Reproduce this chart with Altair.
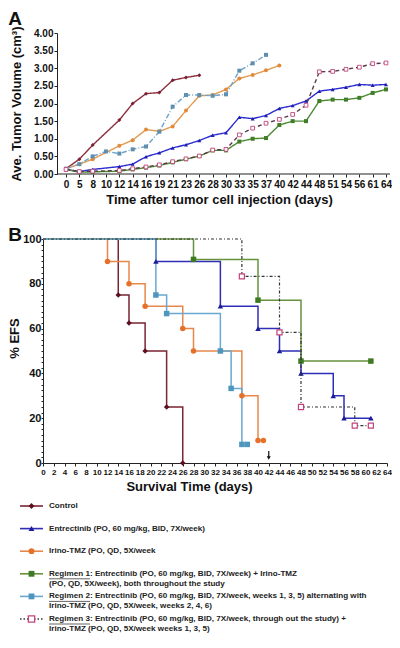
import altair as alt
import pandas as pd

# ---------------- data ----------------
names = ["Control", "Entrectinib", "Irino-TMZ", "Regimen 1", "Regimen 2", "Regimen 3"]

# Panel A: x axis labels (days) and points placed on that measurement axis (index of label)
day_labels = [0, 5, 8, 10, 12, 14, 16, 19, 21, 23, 26, 28, 30, 33, 35, 37, 40, 42, 44, 48, 51, 54, 56, 61, 64]

ctrl_pos = [0, 1, 2, 4, 5, 6, 7, 8, 9, 10]
ctrl_vol = [0.15, 0.42, 0.82, 1.53, 2.00, 2.28, 2.31, 2.66, 2.74, 2.80]

entr_pos = [0, 1, 2, 4, 5, 6, 7, 8, 9, 10, 11, 12, 13, 14, 15, 16, 17, 18, 19, 20, 21, 22, 23, 24]
entr_vol = [0.13, 0.07, 0.13, 0.21, 0.28, 0.49, 0.60, 0.74, 0.83, 0.95, 1.10, 1.17,
            1.61, 1.57, 1.66, 1.86, 1.94, 2.07, 2.35, 2.40, 2.46, 2.54, 2.52, 2.54]

irino_pos = [0, 1, 2, 4, 5, 6, 7, 8, 9, 10, 11, 12, 13, 14, 15, 16]
irino_vol = [0.15, 0.28, 0.42, 0.80, 0.96, 1.26, 1.21, 1.35, 1.80, 2.22, 2.24, 2.40, 2.71, 2.81, 2.94, 3.08]

reg1_pos = [0, 1, 2, 4, 5, 6, 7, 8, 9, 10, 11, 12, 13, 14, 15, 16, 17, 18, 19, 20, 21, 22, 23, 24]
reg1_vol = [0.13, 0.05, 0.06, 0.08, 0.13, 0.18, 0.24, 0.33, 0.42, 0.51, 0.67, 0.67,
            0.92, 1.00, 1.02, 1.39, 1.50, 1.50, 2.07, 2.11, 2.11, 2.16, 2.30, 2.40]

reg2_pos = [0, 1, 2, 3, 4, 5, 6, 7, 8, 9, 10, 11, 12, 13, 14, 15]
reg2_vol = [0.15, 0.28, 0.50, 0.64, 0.58, 0.70, 0.78, 1.20, 1.91, 2.24, 2.24, 2.22, 2.26, 2.93, 3.14, 3.38]

reg3_pos = [0, 1, 2, 4, 5, 6, 7, 8, 9, 10, 11, 12, 13, 14, 15, 16, 17, 18, 19, 20, 21, 22, 23, 24]
reg3_vol = [0.13, 0.07, 0.08, 0.10, 0.15, 0.20, 0.26, 0.35, 0.43, 0.51, 0.68, 0.70,
            1.11, 1.30, 1.44, 1.55, 1.69, 1.95, 2.90, 2.91, 2.97, 3.03, 3.13, 3.15]

# Panel B: Kaplan-Meier event-free survival (day, % EFS)
ctrl_days = [0, 14, 16, 19, 23, 26]
ctrl_efs = [100, 75, 62.5, 50, 25, 0]
entr_days = [0, 21, 33, 40, 44, 48, 54, 56, 61]
entr_efs = [100, 90, 70, 60, 50, 40, 30, 20, 20]
irino_days = [0, 12, 16, 19, 26, 28, 37, 40, 41]
irino_efs = [100, 90, 80, 70, 60, 50, 30, 10, 10]
reg1_days = [0, 28, 40, 48, 61]
reg1_efs = [100, 90.9, 72.7, 45.5, 45.5]
reg2_days = [0, 21, 23, 33, 35, 37, 38]
reg2_efs = [100, 75, 66.7, 50, 33.3, 8.3, 8.3]
reg3_days = [0, 37, 44, 48, 58, 61]
reg3_efs = [100, 83.3, 58.3, 25, 16.7, 16.7]
arrow_day = [42]

# Legend text
legend_line1 = [
    "Control",
    "Entrectinib (PO, 60 mg/kg, BID, 7X/week)",
    "Irino-TMZ (PO, QD, 5X/week",
    "Regimen 1: Entrectinib (PO, 60 mg/kg, BID, 7X/week) + Irino-TMZ",
    "Regimen 2: Entrectinib (PO, 60 mg/kg, BID, 7X/week, weeks 1, 3, 5) alternating with",
    "Regimen 3: Entrectinib (PO, 60 mg/kg, BID, 7X/week, through out the study)  +",
]
legend_line2 = [
    "",
    "",
    "",
    "(PO, QD, 5X/week), both throughout the study",
    "Irino-TMZ (PO, QD, 5X/week, weeks 2, 4, 6)",
    "Irino-TMZ (PO, QD, 5X/week weeks 1, 3, 5)",
]
legend_row = [0, 1, 2, 3, 4, 5]

# ---------------- styles ----------------
colA = ["#8B2F3F", "#2B2BD0", "#E39A4F", "#4D8B32", "#6FA3C8", "#5B3848"]
fillA = ["#7A2232", "#1E1EB0", "#E08A3A", "#3F7D26", "#5E8FB0", "#C2447E"]
dashA = [[1, 0], [1, 0], [1, 0], [1, 0], [5, 2, 1, 2], [4, 3]]
colB = ["#7A2533", "#2E2EB8", "#E8874A", "#66923F", "#6AA8D0", "#333333"]
fillB = ["#5E1020", "#1C1C9A", "#E4702A", "#3D7A22", "#4E96BE", "#C2447E"]
shapes = ["diamond", "triangle-up", "circle", "square", "square", "square"]

FONT = "Liberation Sans"
INK = "#222222"
one = pd.DataFrame({"k": [0]})

# ---------------- panel A ----------------
rowsA = []
for nm, ps, vs in zip(names,
                      [ctrl_pos, entr_pos, irino_pos, reg1_pos, reg2_pos, reg3_pos],
                      [ctrl_vol, entr_vol, irino_vol, reg1_vol, reg2_vol, reg3_vol]):
    for p, v in zip(ps, vs):
        rowsA.append({"series": nm, "pos": p, "vol": v})
dfA = pd.DataFrame(rowsA)

label_expr = "[" + ",".join("'%d'" % d for d in day_labels) + "][datum.value]"

WA, HA = 347, 141
xA = alt.X("pos:Q",
           scale=alt.Scale(domain=[-1.725, 24.3], nice=False, zero=False),
           axis=alt.Axis(values=list(range(len(day_labels))), labelExpr=label_expr,
                         labelFontSize=10, labelFontWeight="bold", labelAngle=0,
                         labelOverlap=False, labelFlush=False, labelBound=False,
                         tickSize=3, labelPadding=2, domain=False,
                         title="Time after tumor cell injection (days)", titleFontSize=13,
                         titleFontWeight="bold", titlePadding=4, titleX=176))
yA = alt.Y("vol:Q",
           scale=alt.Scale(domain=[0, 4], nice=False),
           axis=alt.Axis(values=[0, 0.5, 1, 1.5, 2, 2.5, 3, 3.5, 4], format=".2f",
                         labelFontSize=10, labelFontWeight="bold", tickSize=3, labelPadding=1,
                         offset=-14,
                         title="Ave. Tumor Volume (cm³)", titleFontSize=13,
                         titleFontWeight="bold", titlePadding=10))

cA = alt.Color("series:N", scale=alt.Scale(domain=names, range=colA), legend=None)
fA = alt.Fill("series:N", scale=alt.Scale(domain=names, range=fillA), legend=None)
dA = alt.StrokeDash("series:N", scale=alt.Scale(domain=names, range=dashA), legend=None)
sh = alt.Shape("series:N", scale=alt.Scale(domain=names, range=shapes), legend=None)

baseA = alt.Chart(dfA)
x_axis_line = alt.Chart(one).mark_rule(color=INK, strokeWidth=1).encode(
    x=alt.value(14), x2=alt.value(WA), y=alt.value(HA))
linesA = baseA.mark_line(strokeWidth=1.4).encode(x=xA, y=yA, color=cA, strokeDash=dA, detail="series:N")
ptsA = baseA.transform_filter(alt.datum.series != "Regimen 3").mark_point(
    filled=True, size=16, opacity=1, strokeWidth=0).encode(x=xA, y=yA, fill=fA, shape=sh)
pts3A = baseA.transform_filter(alt.datum.series == "Regimen 3").mark_point(
    shape="square", filled=False, fill="white", stroke="#C2447E", size=14, strokeWidth=0.9,
    opacity=1).encode(x=xA, y=yA)
letterA = alt.Chart(pd.DataFrame({"t": ["A"]})).mark_text(
    fontSize=19, fontWeight="bold", font=FONT, color="#111111", align="center", baseline="top").encode(
    x=alt.value(-28), y=alt.value(-23), text="t:N")
spacerA = alt.Chart(one).mark_rule(opacity=0).encode(x=alt.value(0), y=alt.value(-25), y2=alt.value(-24))

panelA = alt.layer(x_axis_line, linesA, ptsA, pts3A, letterA, spacerA).properties(width=WA, height=HA)

# ---------------- panel B ----------------
rowsB, marksB = [], []
for nm, ds, es in zip(names,
                      [ctrl_days, entr_days, irino_days, reg1_days, reg2_days, reg3_days],
                      [ctrl_efs, entr_efs, irino_efs, reg1_efs, reg2_efs, reg3_efs]):
    for i, (d, e) in enumerate(zip(ds, es)):
        rowsB.append({"series": nm, "day": d, "efs": e})
        if i > 0:
            marksB.append({"series": nm, "day": d, "efs": e})
dfB = pd.DataFrame(rowsB)
dfBm = pd.DataFrame(marksB)

WB, HB = 344, 224
xB = alt.X("day:Q",
           scale=alt.Scale(domain=[0, 64], nice=False, zero=False),
           axis=alt.Axis(values=list(range(0, 65, 2)), format="d",
                         labelFontSize=8, labelFontWeight="bold", labelAngle=0,
                         labelOverlap=False, labelFlush=False, labelBound=False,
                         tickSize=3, labelPadding=2,
                         title="Survival Time (days)", titleFontSize=13,
                         titleFontWeight="bold", titlePadding=4, titleX=146))
yB = alt.Y("efs:Q",
           scale=alt.Scale(domain=[0, 100], nice=False),
           axis=alt.Axis(values=[v * 2.5 for v in range(41)],
                         labelExpr="datum.value % 20 == 0 ? datum.value : ''",
                         labelFontSize=11, labelFontWeight="bold", tickSize=2, labelPadding=0,
                         title="% EFS", titleFontSize=13, titleFontWeight="bold",
                         titlePadding=1.5, titleY=99))

cB = alt.Color("series:N", scale=alt.Scale(domain=names, range=colB), legend=None)
fB = alt.Fill("series:N", scale=alt.Scale(domain=names, range=fillB), legend=None)

others = ["Control", "Irino-TMZ", "Regimen 2", "Entrectinib", "Regimen 1"]
linesB = alt.Chart(dfB).transform_filter(
    alt.FieldOneOfPredicate(field="series", oneOf=others)).mark_line(
    strokeWidth=1.5, interpolate="step-after").encode(x=xB, y=yB, color=cB, detail="series:N")
line3B = alt.Chart(dfB).transform_filter(alt.datum.series == "Regimen 3").mark_line(
    strokeWidth=1.2, interpolate="step-after", color="#333333", strokeDash=[3, 2, 1, 2]).encode(x=xB, y=yB)
ptsB = alt.Chart(dfBm).transform_filter(alt.datum.series != "Regimen 3").mark_point(
    filled=True, size=30, opacity=1, strokeWidth=0).encode(x=xB, y=yB, fill=fB, shape=sh)
pts3B = alt.Chart(dfBm).transform_filter(alt.datum.series == "Regimen 3").mark_point(
    shape="square", filled=False, fill="white", stroke="#C2447E", size=26, strokeWidth=1.2,
    opacity=1).encode(x=xB, y=yB)

dfArrow = pd.DataFrame({"day": arrow_day})
arrow = alt.Chart(dfArrow).mark_rule(color="#111111", strokeWidth=1.2).encode(
    x=xB, y=alt.value(212), y2=alt.value(219))
arrow_head = alt.Chart(dfArrow).mark_point(shape="triangle-down", filled=True, color="#111111",
                                           size=16, opacity=1).encode(x=xB, y=alt.value(219))
spacerB = alt.Chart(one).mark_rule(opacity=0).encode(x=alt.value(0), y=alt.value(-27), y2=alt.value(-26))
letterB = alt.Chart(pd.DataFrame({"t": ["B"]})).mark_text(
    fontSize=19, fontWeight="bold", font=FONT, color="#111111", align="center", baseline="top").encode(
    x=alt.value(-28), y=alt.value(-13), text="t:N")

panelB = alt.layer(linesB, ptsB, line3B, pts3B, arrow, arrow_head, spacerB, letterB).properties(
    width=WB, height=HB)

# ---------------- legend ----------------
dfL = pd.DataFrame({"series": names, "row": legend_row, "line1": legend_line1, "line2": legend_line2})
yL = alt.Y("row:Q", scale=alt.Scale(domain=[0, 5], reverse=True, nice=False), axis=None)
LFS = 8.1
leg_line = alt.Chart(dfL).transform_filter(alt.datum.series != "Regimen 3").mark_rule(
    strokeWidth=1.6).encode(x=alt.value(-23), x2=alt.value(0), y=yL, color=cB)
leg_line3 = alt.Chart(dfL).transform_filter(alt.datum.series == "Regimen 3").mark_rule(
    strokeWidth=1.3, color="#333333", strokeDash=[1.5, 2]).encode(x=alt.value(-23), x2=alt.value(0), y=yL)
leg_pts = alt.Chart(dfL).transform_filter(alt.datum.series != "Regimen 3").mark_point(
    filled=True, size=34, opacity=1, strokeWidth=0).encode(x=alt.value(-11.5), y=yL, fill=fB, shape=sh)
leg_pts3 = alt.Chart(dfL).transform_filter(alt.datum.series == "Regimen 3").mark_point(
    shape="square", filled=False, fill="white", stroke="#C2447E", size=40, strokeWidth=1.3,
    opacity=1).encode(x=alt.value(-11.5), y=yL)
leg_t1 = alt.Chart(dfL).mark_text(align="left", baseline="middle", fontSize=LFS, fontWeight="bold",
                                  color=INK, font=FONT).encode(x=alt.value(6), y=yL, text="line1:N")
leg_t2 = alt.Chart(dfL).mark_text(align="left", baseline="middle", fontSize=LFS, fontWeight="bold",
                                  color=INK, font=FONT, dy=10).encode(x=alt.value(6), y=yL, text="line2:N")
leg_ul = alt.Chart(dfL).transform_filter(alt.datum.row >= 3).mark_rule(
    strokeWidth=0.7, color=INK, yOffset=5).encode(x=alt.value(6), x2=alt.value(47), y=yL)
spacerL = alt.Chart(one).mark_rule(opacity=0).encode(x=alt.value(0), y=alt.value(-7), y2=alt.value(-6))

legend = alt.layer(leg_line, leg_line3, leg_pts, leg_pts3, leg_t1, leg_t2, leg_ul, spacerL).properties(
    width=330, height=113)

chart = alt.vconcat(panelA, panelB, legend, spacing=6, padding=0).resolve_scale(
    color="independent", fill="independent", strokeDash="independent", shape="independent"
).configure(font=FONT).configure_view(stroke=None).configure_axis(
    grid=False, domainColor=INK, tickColor=INK, labelColor="#111111",
    titleColor="#111111", labelFont=FONT, titleFont=FONT)

chart.save("out.html", embed_options={"renderer": "svg", "actions": False})
